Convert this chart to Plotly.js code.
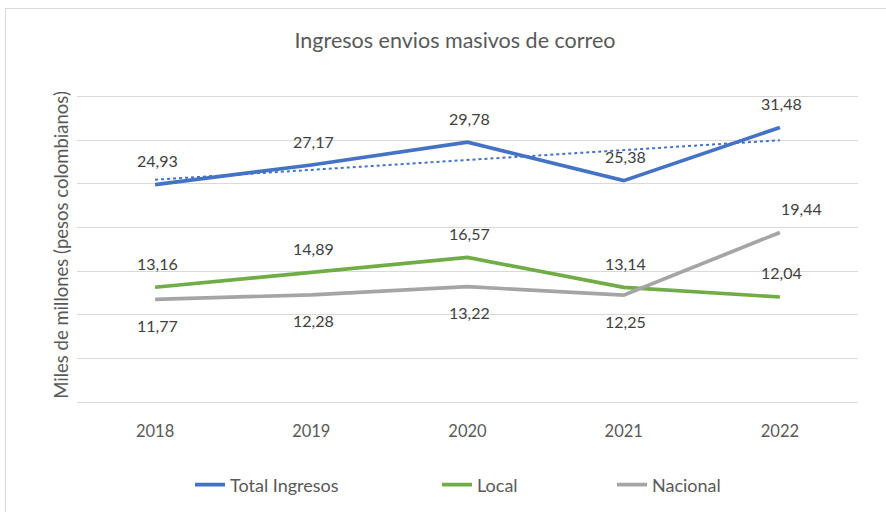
<!DOCTYPE html>
<html>
<head>
<meta charset="utf-8">
<script src="https://cdn.plot.ly/plotly-3.0.1.min.js"></script>
<style>
  html, body { margin: 0; padding: 0; background: #fff; }
  #wrap { position: relative; width: 886px; height: 512px; overflow: hidden; }
  #chart { width: 886px; height: 512px; }
  #frame { position: absolute; left: 5px; top: 8px; width: 900px; height: 520px; border: 1px solid #D9D9D9; pointer-events: none; }
</style>
</head>
<body>
<div id="wrap"><div id="chart"></div><div id="frame"></div></div>
<script>
const years = ['2018', '2019', '2020', '2021', '2022'];
const totalIngresos = [24.93, 27.17, 29.78, 25.38, 31.48];
const local = [13.16, 14.89, 16.57, 13.14, 12.04];
const nacional = [11.77, 12.28, 13.22, 12.25, 19.44];
const seriesNames = ['Total Ingresos', 'Local', 'Nacional'];

// label placement per point (style only)
const totalLabelPos = ['above', 'above', 'above', 'above', 'above'];
const localLabelPos = ['above', 'above', 'above', 'above', 'above'];
const nacionalLabelPos = ['below', 'below', 'below', 'below', 'aboveRight'];

const colors = ['#4472C4', '#70AD47', '#A5A5A5'];
const fontFam = 'Lato, "Noto Sans", sans-serif';

// linear trendline (least squares) of Total Ingresos
const n = totalIngresos.length;
const xs = totalIngresos.map((_, i) => i + 1);
const mx = xs.reduce((a, b) => a + b, 0) / n;
const my = totalIngresos.reduce((a, b) => a + b, 0) / n;
let sxy = 0, sxx = 0;
for (let i = 0; i < n; i++) { sxy += (xs[i] - mx) * (totalIngresos[i] - my); sxx += (xs[i] - mx) ** 2; }
const slope = sxy / sxx;
const trend = xs.map(x => my + slope * (x - mx));

const traces = [
  { x: years, y: trend, mode: 'lines', line: { color: colors[0], width: 2, dash: 'dot' }, showlegend: false, hoverinfo: 'skip' },
  { x: years, y: totalIngresos, name: seriesNames[0], mode: 'lines', line: { color: colors[0], width: 3.7 }, legend: 'legend' },
  { x: years, y: local, name: seriesNames[1], mode: 'lines', line: { color: colors[1], width: 3.7 }, legend: 'legend2' },
  { x: years, y: nacional, name: seriesNames[2], mode: 'lines', line: { color: colors[2], width: 3.7 }, legend: 'legend3' }
];

function fmt(v) { return v.toFixed(2).replace('.', ','); }
const annotations = [];
[[totalIngresos, totalLabelPos], [local, localLabelPos], [nacional, nacionalLabelPos]].forEach(([vals, pos]) => {
  vals.forEach((v, i) => {
    const p = pos[i];
    annotations.push({
      x: i, y: v, xref: 'x', yref: 'y', text: fmt(v), showarrow: false,
      font: { family: fontFam, size: 16, color: '#404040' },
      yshift: p === 'below' ? -26 : 24,
      xshift: p === 'aboveRight' ? 22 : 2
    });
  });
});

const plotTop = 88, plotBottom = 402;
const legendFont = { family: fontFam, size: 18, color: '#595959' };
const legY = (plotBottom - 485) / (plotBottom - plotTop);
function leg(xpx) {
  return { orientation: 'h', x: (xpx - 77) / 781, xanchor: 'left', y: legY, yanchor: 'middle',
           font: legendFont, bgcolor: 'rgba(0,0,0,0)' };
}

const layout = {
  width: 886, height: 512,
  margin: { l: 77, r: 28, t: plotTop, b: 512 - plotBottom, autoexpand: false },
  paper_bgcolor: '#fff', plot_bgcolor: '#fff',
  title: { text: 'Ingresos envios masivos de correo', x: 455 / 886, xanchor: 'center', y: 1 - 40 / 512, yanchor: 'middle',
           font: { family: fontFam, size: 21.5, color: '#595959' } },
  xaxis: { type: 'category', range: [-0.5, 4.5], showgrid: false, zeroline: false,
           showline: true, linecolor: '#D9D9D9', linewidth: 1, ticks: '', ticklen: 0, ticklabelstandoff: 14,
           tickfont: { family: fontFam, size: 16.5, color: '#595959' } },
  yaxis: { range: [0, 36], dtick: 5, tick0: 0, showgrid: true, gridcolor: '#D9D9D9', gridwidth: 1,
           zeroline: false, showticklabels: false, ticks: '',
           title: { text: 'Miles de millones (pesos colombianos)', standoff: 2, font: { family: fontFam, size: 18.5, color: '#595959' } } },
  showlegend: true,
  legend: leg(190),
  legend2: leg(437),
  legend3: leg(612),
  annotations: annotations
};

Plotly.newPlot('chart', traces, layout, { displayModeBar: false, staticPlot: true });
</script>
</body>
</html>
